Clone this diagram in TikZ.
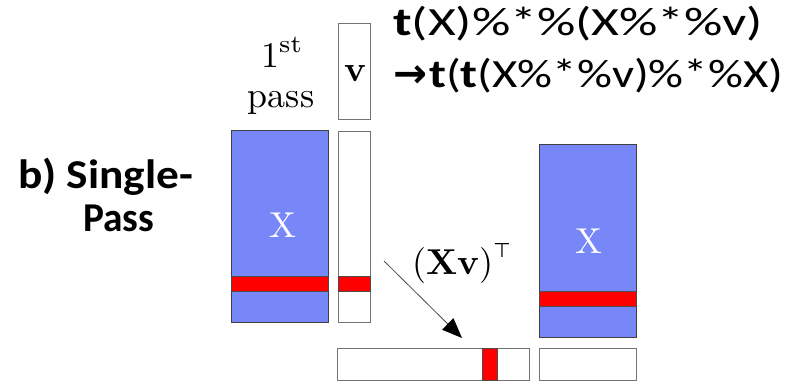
\documentclass[tikz,border=0pt]{standalone}
\usepackage{fontspec}
\usepackage{graphicx}
\usetikzlibrary{arrows.meta}
\newfontfamily\calib{Carlito}
\newfontfamily\djv{DejaVu Sans}
\newfontfamily\lmten{lmroman10-regular.otf}[BoldFont=lmroman10-bold.otf]
\newfontfamily\lmseven{lmroman7-regular.otf}
\definecolor{matblue}{RGB}{120,135,248}
\definecolor{matred}{RGB}{255,0,0}
\tikzset{
  bluemat/.style={draw=black!75, line width=1.2pt, fill=matblue, inner sep=0pt, outer sep=0pt},
  whitemat/.style={draw=black!55, line width=1.2pt, fill=white, inner sep=0pt, outer sep=0pt},
  stripe/.style={draw=black!70, line width=1pt, fill=matred, inner sep=0pt, outer sep=0pt},
  lm/.style={font=\fontsize{36}{43}\selectfont\lmten, inner sep=0pt},
  lbl/.style={font=\fontsize{41}{49}\selectfont\calib\bfseries, inner sep=0pt},
  fl/.style={font=\fontsize{40}{48}\selectfont\calib, inner sep=0pt},
}
\begin{document}
\begin{tikzpicture}[x=1pt,y=-1pt]
\useasboundingbox (0,0) rectangle (794,382);
% left matrix X
\node[bluemat, minimum width=97pt, minimum height=192pt] (X1) at (280,226.5) {};
\node[stripe, minimum width=97pt, minimum height=15pt] (X1r) at (280,284) {};
\node[lm, text=white] (X1l) at (283,225) {X};
% vector v column
\node[whitemat, minimum width=32pt, minimum height=191pt] (V1) at (354.5,227) {};
\node[stripe, minimum width=32pt, minimum height=15pt] (V1r) at (354.5,284) {};
% v box on top
\node[whitemat, minimum width=32pt, minimum height=96pt] (V0) at (354.5,71.5) {};
\node[lm] (V0l) at (355,74) {\textbf{v}};
% right matrix X
\node[bluemat, minimum width=97pt, minimum height=193pt] (X2) at (588,241) {};
\node[stripe, minimum width=97pt, minimum height=15pt] (X2r) at (588,299) {};
\node[lm, text=white] (X2l) at (588.5,241) {X};
% bottom row vector
\node[whitemat, minimum width=192pt, minimum height=32pt] (R) at (433.5,364.5) {};
\node[stripe, minimum width=15pt, minimum height=32pt] (Rr) at (489.5,364.5) {};
\node[whitemat, minimum width=97pt, minimum height=32pt] (R2) at (588,364.5) {};
% arrow
\coordinate (a0) at (384,261);
\coordinate (a1) at (462,338);
\draw[line width=0.8pt, draw=black!70, -{Triangle[length=20pt,width=16pt,color=black]}] (a0) -- (a1);
\node[lm, anchor=base west] (xv) at (412,274) {(\textbf{Xv})\raisebox{0.45em}{\fontsize{20}{24}\selectfont\djv ⊤}};
% 1st pass
\node[lm, anchor=base west] (first) at (261,68) {1\raisebox{0.42em}{\fontsize{25}{30}\selectfont\lmseven st}};
\node[lm, anchor=base] (pass) at (281,108) {pass};
% b) Single-Pass
\node[lbl, anchor=base west] (b1) at (18,188) {\resizebox{175pt}{\height}{b) Single-}};
\node[lbl, anchor=base west] (b2) at (83,231) {\resizebox{71pt}{\height}{Pass}};
% formula
\node[fl, anchor=base west] (f1) at (393,36) {\resizebox{370pt}{\height}{\textbf{t}(X)\%*\%(X\%*\%v)}};
\node[fl, anchor=base west] (f2a) at (393,88) {\resizebox{34pt}{!}{\djv\bfseries →}};
\node[fl, anchor=base west] (f2) at (429,88) {\resizebox{354pt}{\height}{\textbf{t}(\textbf{t}(X\%*\%v)\%*\%X)}};
\end{tikzpicture}
\end{document}
